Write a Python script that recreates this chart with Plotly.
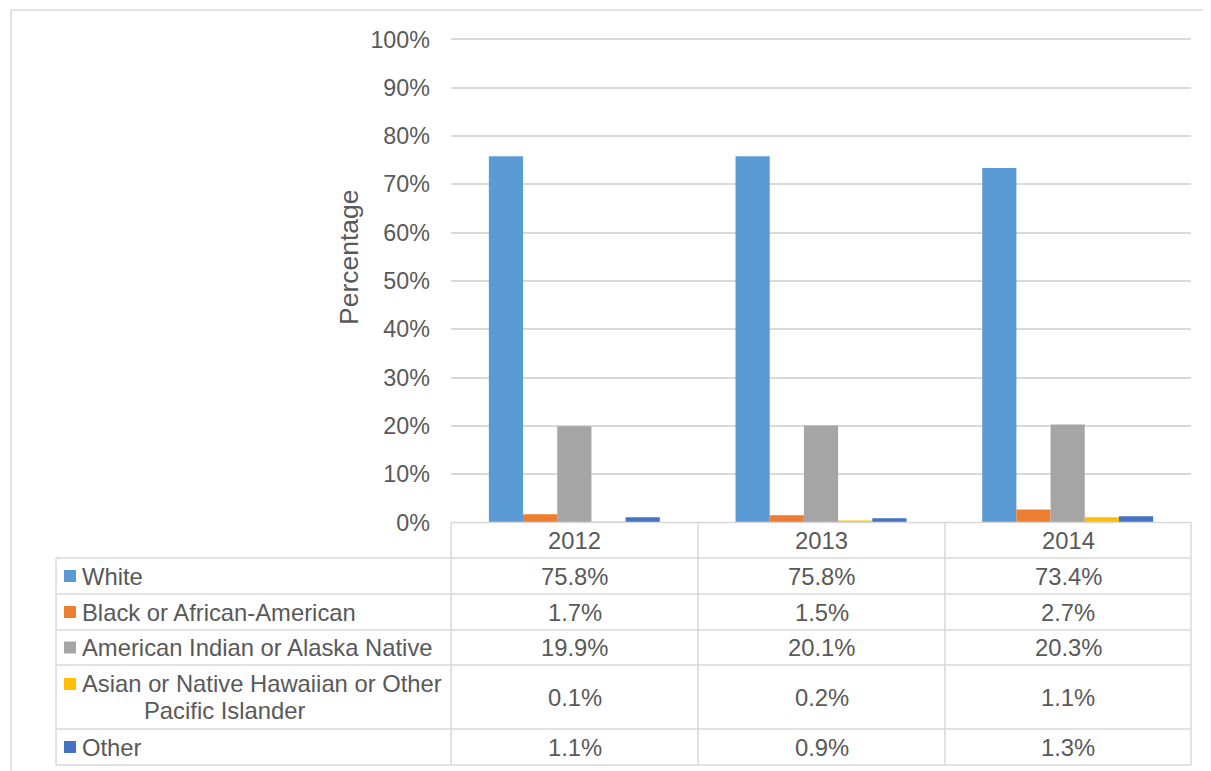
import plotly.graph_objects as go

years = ["2012", "2013", "2014"]
groups = [
    "White",
    "Black or African-American",
    "American Indian or Alaska Native",
    "Asian or Native Hawaiian or Other Pacific Islander",
    "Other",
]
white = [75.8, 75.8, 73.4]
black = [1.7, 1.5, 2.7]
am_indian = [19.9, 20.1, 20.3]
asian = [0.1, 0.2, 1.1]
other = [1.1, 0.9, 1.3]
series = [white, black, am_indian, asian, other]
colors = ["#5b9bd5", "#ed7d31", "#a5a5a5", "#ffc000", "#4472c4"]
y_ticks = [0, 10, 20, 30, 40, 50, 60, 70, 80, 90, 100]

W, H = 1211, 771
OFF = 8  # page body margin
FONT = "Liberation Sans, Arial, sans-serif"
TXT = "#595959"
LINE = "#d9d9d9"


def px(x):
    return (x - OFF) / W


def py(y):
    return 1 - (y - OFF) / H


fig = go.Figure()
for name, vals, col in zip(groups, series, colors):
    fig.add_trace(go.Bar(x=years, y=vals, name=name, marker_color=col,
                         marker_line_width=0))

# table geometry (pixels)
tab_left, plot_left, plot_right = 56, 451, 1191
axis_y = 522.5
row_edges = [558, 594, 630, 665, 729, 765]
col_edges = [451, 698, 945, 1191]

shapes = []


def hline(x0, x1, y):
    shapes.append(dict(type="line", xref="paper", yref="paper",
                       x0=px(x0), x1=px(x1), y0=py(y), y1=py(y),
                       line=dict(color=LINE, width=1.5)))


def vline(x, y0, y1):
    shapes.append(dict(type="line", xref="paper", yref="paper",
                       x0=px(x), x1=px(x), y0=py(y0), y1=py(y1),
                       line=dict(color=LINE, width=1.5)))


# chart border
hline(11, 1225, 10)
vline(11, 10, 785)

hline(plot_left, plot_right, axis_y)
for y in row_edges:
    hline(tab_left, plot_right, y)
for x in col_edges:
    vline(x, axis_y, row_edges[-1])
vline(tab_left, row_edges[0], row_edges[-1])

annotations = []


def text(x, y, s, size=23.8, xanchor="center", angle=0):
    annotations.append(dict(xref="paper", yref="paper", x=px(x), y=py(y),
                            text=s, showarrow=False, xanchor=xanchor,
                            yanchor="middle", textangle=angle,
                            font=dict(family=FONT, size=size, color=TXT)))


# header years
for i, yr in enumerate(years):
    cx = (col_edges[i] + col_edges[i + 1]) / 2
    text(cx, (axis_y + row_edges[0]) / 2, yr)

# rows
for r, (name, vals, col) in enumerate(zip(groups, series, colors)):
    y0, y1 = row_edges[r], row_edges[r + 1]
    cy = (y0 + y1) / 2
    if r == 3:
        mark_y = 684
        text(80, 683, "Asian or Native Hawaiian or Other", xanchor="left")
        text(224, 710, "Pacific Islander")
    else:
        mark_y = cy
        text(80, cy, name, xanchor="left")
    shapes.append(dict(type="rect", xref="paper", yref="paper",
                       x0=px(64), x1=px(76), y0=py(mark_y - 6), y1=py(mark_y + 6),
                       fillcolor=col, line=dict(width=0)))
    for i, v in enumerate(vals):
        cx = (col_edges[i] + col_edges[i + 1]) / 2
        text(cx, cy, f"{v:.1f}%")

# y axis title
text(349, 257, "Percentage", size=26.5, angle=-90)

# y scale: 0% at axis_y, 100% at 39.4 px; range padded a bit so the 100% grid shows
px_per_unit = (axis_y - 39.4) / 100
y_top = 101

fig.update_layout(
    width=W, height=H,
    margin=dict(l=0, r=0, t=0, b=0),
    paper_bgcolor="white", plot_bgcolor="white",
    barmode="group", bargap=0.307, bargroupgap=0,
    showlegend=False,
    shapes=shapes, annotations=annotations,
    font=dict(family=FONT, color=TXT),
)
fig.update_xaxes(domain=[px(plot_left), px(plot_right)], showticklabels=False,
                 showgrid=False, zeroline=False, showline=False, automargin=False)
fig.update_yaxes(domain=[py(axis_y), py(axis_y - px_per_unit * y_top)],
                 range=[0, y_top], tickvals=y_ticks,
                 ticktext=[f"{t}%" for t in y_ticks],
                 showgrid=True, gridcolor=LINE, gridwidth=1.5,
                 zeroline=False, showline=False, ticklabelstandoff=20,
                 automargin=False,
                 tickfont=dict(family=FONT, size=23.3, color=TXT))

fig.write_html("out.html")
